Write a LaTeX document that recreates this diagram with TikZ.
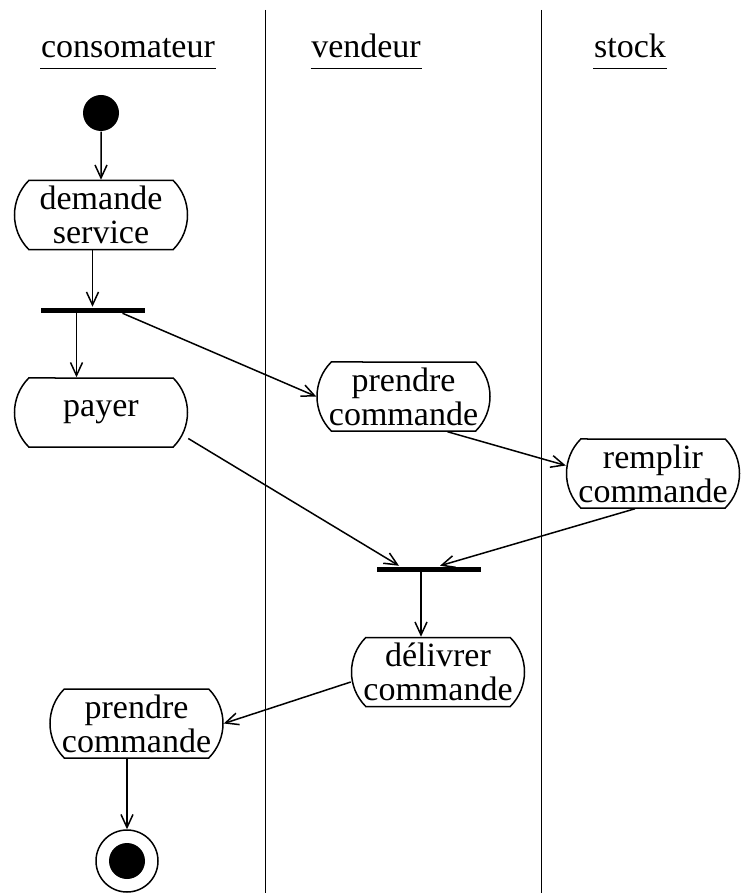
\documentclass[tikz,border=0pt]{standalone}
\usepackage{fontspec}
\setmainfont{Liberation Serif}
\usetikzlibrary{shapes.misc,arrows.meta}
\setlength{\lineskip}{2pt}
\begin{document}
\begin{tikzpicture}[x=1pt,y=-1pt,line width=1.5pt,
  >={Straight Barb[length=13pt,width=12pt]},
  every node/.style={font=\fontsize{34}{34}\selectfont},
  act/.style={draw,rounded rectangle,rounded rectangle arc length=90,
    minimum width=173pt,minimum height=69pt,inner xsep=0pt,inner ysep=0pt,align=center},
  lanehead/.style={inner sep=0pt,anchor=base},
  syncbar/.style={fill,minimum width=104pt,minimum height=5pt,inner sep=0pt},
  flow/.style={->}]
\useasboundingbox (0,0) rectangle (740,893);
\draw[line width=1pt] (265,10)--(265,893);
\draw[line width=1pt] (541,10)--(541,893);
\node[lanehead] (h1) at (128,58) {consomateur};
\node[lanehead] (h2) at (366,58) {vendeur};
\node[lanehead] (h3) at (630,58) {stock};
\foreach \h in {h1,h2,h3}
  \draw[line width=1pt] ([yshift=-11pt]\h.base west)--([yshift=-11pt]\h.base east);
\node[circle,fill,minimum size=36pt,inner sep=0pt] (start) at (101,113) {};
\node[act] (ds) at (101,215) {demande\\service};
\node[syncbar] (fork) at (92.5,310) {};
\node[act] (pay) at (101,412.5) {payer};
\node[act] (pc) at (403.5,396.5) {prendre\\commande};
\node[act] (rc) at (653,473.5) {remplir\\commande};
\node[syncbar] (join) at (429,569) {};
\node[act] (dc) at (438,672) {délivrer\\commande};
\node[act] (pc2) at (136.5,723.5) {prendre\\commande};
\node[circle,draw,minimum size=62pt,inner sep=0pt] (fin) at (127,861) {};
\fill (fin.center) circle (18pt);
\coordinate (fa) at ([xshift=-16pt]fork.south);
\coordinate (fb) at ([xshift=30pt]fork.south);
\coordinate (ja) at ([xshift=-8pt]join.south);
\draw[flow] (start)--(ds);
\draw[flow] (ds.south -| fork.north)--(fork.north);
\draw[flow] (fa)--(fa |- pay.north);
\draw[flow] (fb)--(pc.west);
\draw[flow] ([xshift=44pt]pc.south)--([yshift=8pt]rc.west);
\draw[flow] ([yshift=-26pt]pay.east)--([xshift=-30pt]join.north);
\draw[flow] ([xshift=-18pt]rc.south)--([xshift=11pt]join.north);
\draw[flow] (ja)--(ja |- dc.north);
\draw[flow] ([yshift=-10pt]dc.west)--(pc2.east);
\draw[flow] (fin.north |- pc2.south)--(fin);
\end{tikzpicture}
\end{document}
